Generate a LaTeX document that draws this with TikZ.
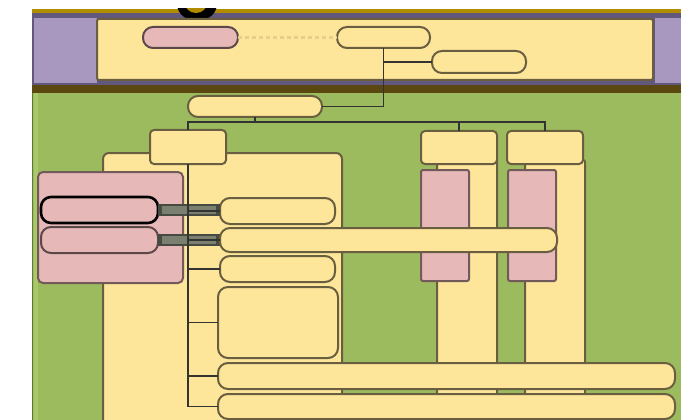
\documentclass[tikz,border=0pt]{standalone}
\usetikzlibrary{calc}
\definecolor{yel}{HTML}{FDE59A}
\definecolor{yedge}{HTML}{6A5E40}
\definecolor{grn}{HTML}{9CBB5E}
\definecolor{grnlt}{HTML}{A8C86A}
\definecolor{grnedge}{HTML}{5E7A36}
\definecolor{pnk}{HTML}{E6B9B8}
\definecolor{pedge}{HTML}{735A5A}
\definecolor{purlt}{HTML}{A898C0}
\definecolor{purdk}{HTML}{62587D}
\definecolor{gold}{HTML}{B08C00}
\definecolor{brn}{HTML}{5A4810}
\definecolor{bar}{HTML}{7A8070}
\definecolor{baredge}{HTML}{464A40}
\definecolor{dots}{HTML}{E6CF8C}
\begin{document}
\begin{tikzpicture}[x=1pt,y=-1pt,
  box/.style={draw=yedge, fill=yel, line width=2pt, rounded corners=4pt, anchor=north west, inner sep=0pt, outer sep=0pt},
  pill/.style={box, rounded corners=10pt},
  pbox/.style={box, draw=pedge, fill=pnk},
  ppill/.style={pill, draw=pedge!80!black, fill=pnk},
  wire/.style={draw=black!80, line width=1.5pt},
  link/.style={draw=baredge, line width=12pt},
  linkin/.style={draw=bar, line width=8pt}]
\useasboundingbox (0,0) rectangle (681,420);
\clip (0,0) rectangle (681,420);
\fill[white] (0,0) rectangle (681,420);
% top bar
\fill[gold] (32,9) rectangle (681,13);
\fill[purdk] (32,13) rectangle (681,85);
\fill[purlt] (34,18) rectangle (97,83);
\fill[purlt] (655,18) rectangle (681,83);
\fill[brn] (32,85) rectangle (681,93);
% ring at top
\begin{scope}
  \clip (0,9) rectangle (681,30);
  \fill[black] (197,4) ellipse [x radius=20, y radius=17];
  \begin{scope}
    \clip (0,9) rectangle (681,13);
    \fill[gold] (196,3) ellipse [x radius=11, y radius=10];
  \end{scope}
\end{scope}
\node[box, rounded corners=2pt, minimum width=556pt, minimum height=61pt] (band) at (97,19) {};
% green area
\fill[grn] (32,93) rectangle (681,420);
\fill[grnlt] (34,93) rectangle (38,420);
\draw[grnedge, line width=1.2pt] (32.6,93) -- (32.6,420);
% top band contents
\node[ppill, minimum width=95pt, minimum height=21pt] (pk) at (143,27) {};
\node[pill, minimum width=93pt, minimum height=21pt] (q1) at (337,27) {};
\node[pill, minimum width=94pt, minimum height=22pt] (q2) at (432,51) {};
\node[pill, minimum width=134pt, minimum height=21pt] (r) at (188,96) {};
\draw[dots, line width=3pt, dash pattern=on 4pt off 3pt] (pk.east) -- (q1.west);
\coordinate (jn) at (255,122);
\draw[wire] (q1.south) -- (q1.south |- r.east) -- (r.east);
\draw[wire] (q1.south |- q2.west) -- (q2.west);
% big yellow box and columns
\node[box, rounded corners=6pt, minimum width=239pt, minimum height=290pt] (big) at (103,153) {};
\node[box, rounded corners=2pt, minimum width=60pt, minimum height=270pt] (colb) at (437,160) {};
\node[box, rounded corners=2pt, minimum width=60pt, minimum height=270pt] (colc) at (525,160) {};
\node[pbox, rounded corners=2pt, minimum width=48pt, minimum height=111pt] (pb) at (421,170) {};
\node[pbox, rounded corners=2pt, minimum width=48pt, minimum height=111pt] (pc) at (508,170) {};
% header boxes
\node[box, minimum width=76pt, minimum height=34pt] (a) at (150,130) {};
\node[box, minimum width=76pt, minimum height=33pt] (b) at (421,131) {};
\node[box, minimum width=76pt, minimum height=33pt] (c) at (507,131) {};
\draw[wire] (r.south) -- (jn);
\draw[wire] (a.north) -- (a.north |- jn) -- (c.north |- jn) -- (c.north);
\draw[wire] (b.north |- jn) -- (b.north);
% pink group
\node[pbox, rounded corners=5pt, minimum width=145pt, minimum height=111pt] (pg) at (38,172) {};
\node[ppill, draw=black, line width=2.6pt, minimum width=117pt, minimum height=26pt] (pp1) at (41,197) {};
\node[ppill, minimum width=117pt, minimum height=26pt] (pp2) at (41,227) {};
% right pills
\node[pill, minimum width=115pt, minimum height=26pt] (p1) at (220,198) {};
\node[pill, minimum width=115pt, minimum height=26pt] (p3) at (220,256) {};
\node[box, rounded corners=10pt, minimum width=120pt, minimum height=71pt] (p4) at (218,287) {};
% gray links
\draw[link] (pp1.east) -- (pp1.east -| p1.west);
\draw[linkin] ($(pp1.east)+(4,0)$) -- ($(pp1.east -| p1.west)+(-4,0)$);
\draw[link] (pp2.east) -- (pp2.east -| p1.west);
\draw[linkin] ($(pp2.east)+(4,0)$) -- ($(pp2.east -| p1.west)+(-4,0)$);
% long pills
\node[pill, minimum width=337pt, minimum height=24pt] (p2) at (220,228) {};
\node[pill, minimum width=457pt, minimum height=26pt] (p5) at (218,363) {};
\node[pill, minimum width=457pt, minimum height=25pt] (p6) at (218,394) {};
% trunk
\draw[wire] (a.south) -- (a.south |- p6.west) -- (p6.west);
\foreach \t in {p1,p2,p3,p4,p5}{
  \draw[wire] (a.south |- \t.west) -- (\t.west);
}
\end{tikzpicture}
\end{document}
